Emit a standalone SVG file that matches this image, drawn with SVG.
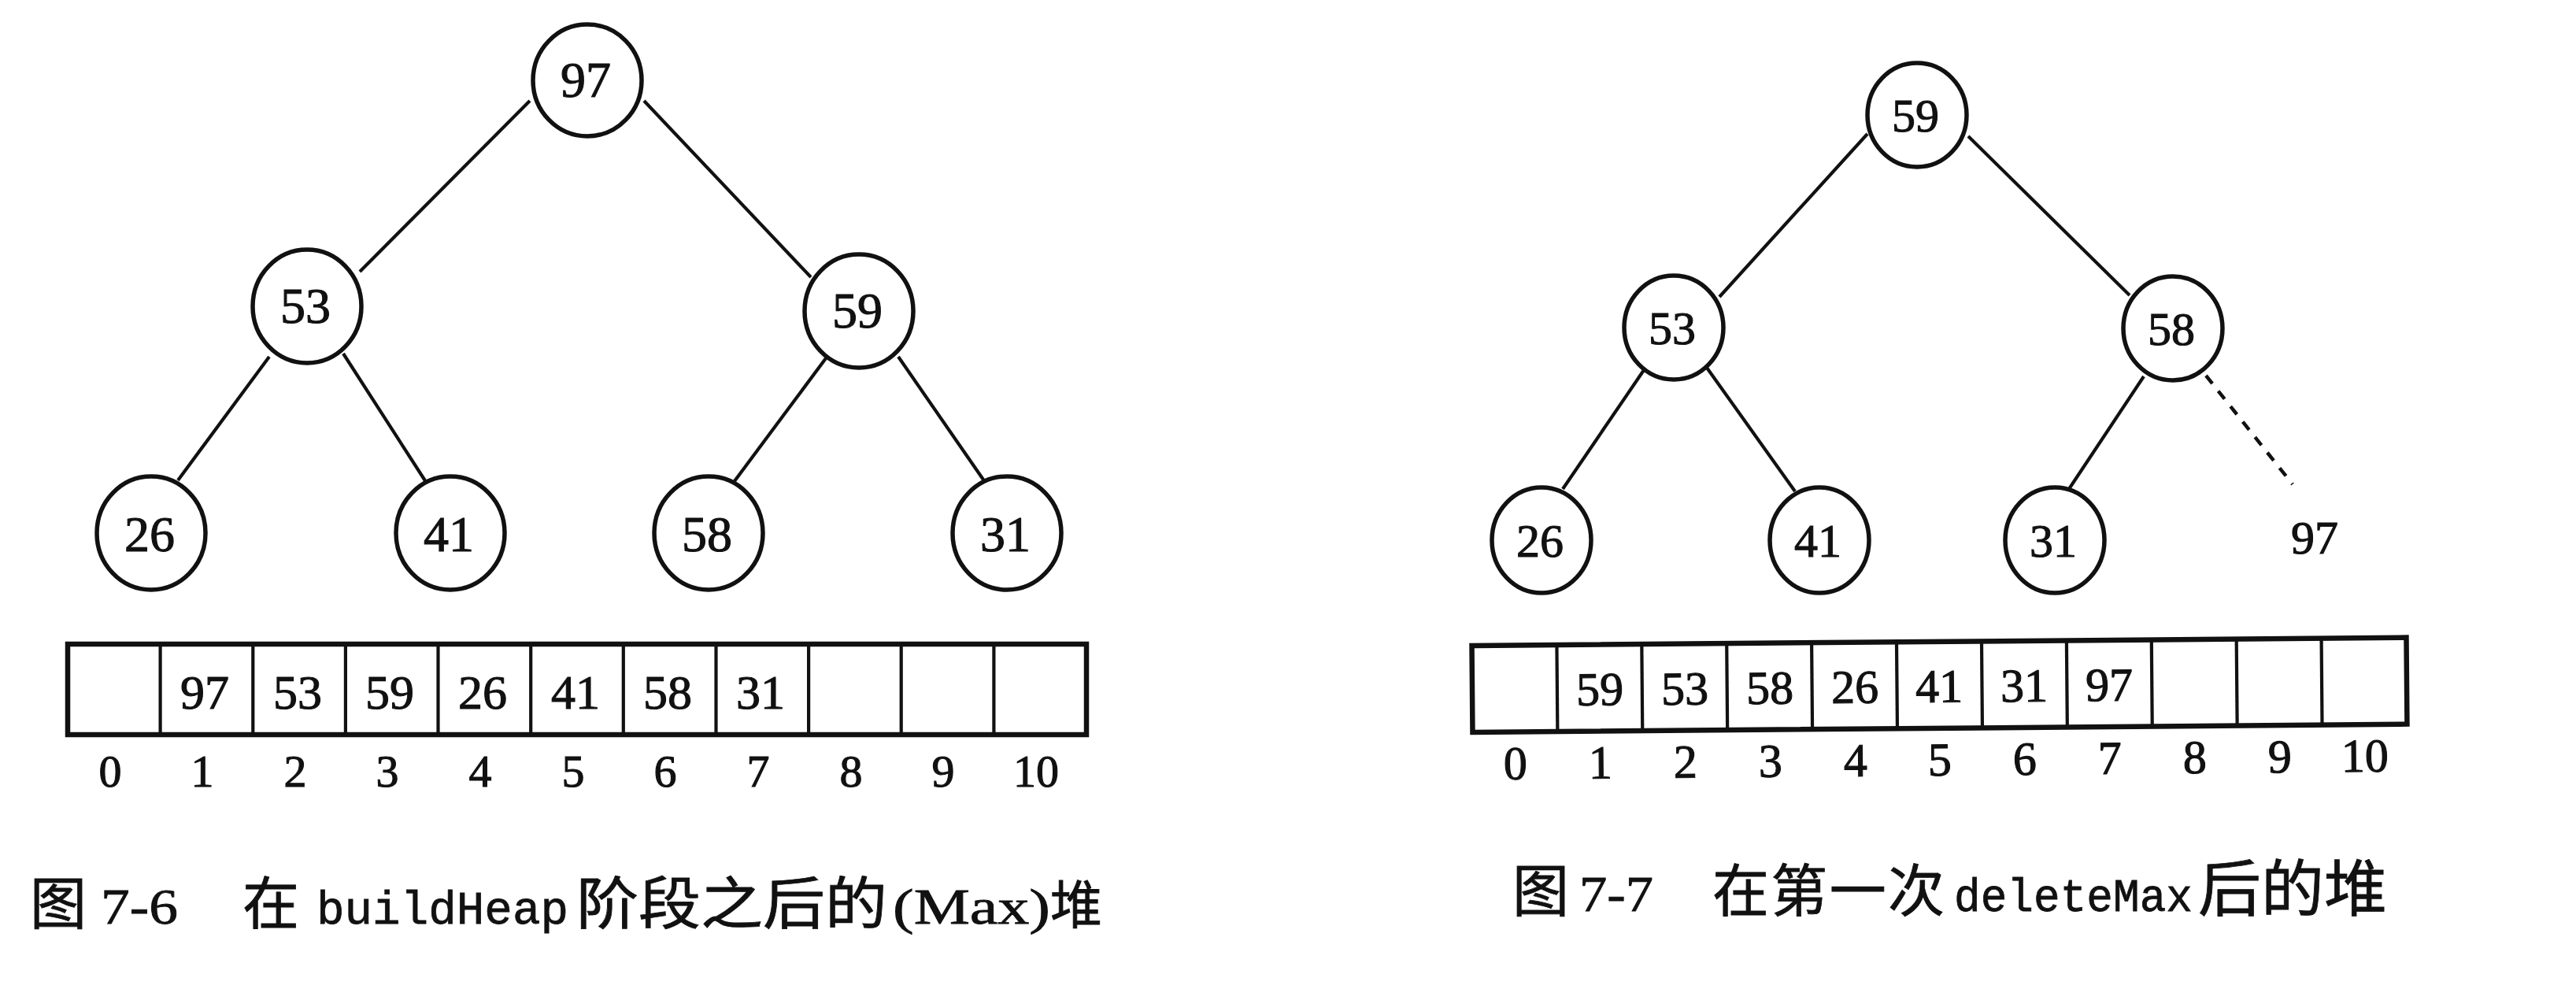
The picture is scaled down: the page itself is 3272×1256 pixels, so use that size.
<svg xmlns="http://www.w3.org/2000/svg" width="3272" height="1256" viewBox="0 0 3272 1256">
<style>
.node ellipse{fill:#fff;stroke:#111;stroke-width:5.5}
.edge{stroke:#111;stroke-width:4.2;fill:none}
.dash{stroke:#111;stroke-width:4.5;fill:none;stroke-dasharray:13 12}
.num{font-family:"Liberation Serif","Times New Roman",serif;fill:#111;stroke:#111;stroke-width:1.1;text-anchor:middle}
.cell{fill:#fff;stroke:#111;stroke-width:6.5}
.div{stroke:#111;stroke-width:4.2}
.cap{font-family:"Noto Sans CJK SC","Noto Sans",sans-serif;font-size:72px;fill:#111;stroke:#111;stroke-width:0.8}
.mono{font-family:"Liberation Mono","Courier New",monospace;font-size:60px}
.ser{font-family:"Liberation Serif","Times New Roman",serif;font-size:64px}
</style>
<rect width="3272" height="1256" fill="#fff"/>

<!-- Figure 7-6 -->
<g id="connectors-left">
<line class="edge" x1="673" y1="128" x2="457" y2="345"/>
<line class="edge" x1="818" y1="128" x2="1030" y2="352"/>
<line class="edge" x1="342" y1="453" x2="226" y2="610"/>
<line class="edge" x1="436" y1="449" x2="541" y2="612"/>
<line class="edge" x1="1049" y1="455" x2="930" y2="615"/>
<line class="edge" x1="1141" y1="453" x2="1251" y2="612"/>
</g>
<g id="L97" class="node"><ellipse cx="746" cy="102" rx="69" ry="71"/><text class="num" x="744" y="123" font-size="64">97</text></g>
<g id="L53" class="node"><ellipse cx="390" cy="389" rx="69" ry="72"/><text class="num" x="388" y="410" font-size="64">53</text></g>
<g id="L59" class="node"><ellipse cx="1091" cy="395" rx="69" ry="72"/><text class="num" x="1089" y="416" font-size="64">59</text></g>
<g id="L26" class="node"><ellipse cx="192" cy="677" rx="69" ry="72"/><text class="num" x="190" y="700" font-size="64">26</text></g>
<g id="L41" class="node"><ellipse cx="572" cy="677" rx="69" ry="72"/><text class="num" x="570" y="700" font-size="64">41</text></g>
<g id="L58" class="node"><ellipse cx="900" cy="677" rx="69" ry="72"/><text class="num" x="898" y="700" font-size="64">58</text></g>
<g id="L31" class="node"><ellipse cx="1279" cy="677" rx="69" ry="72"/><text class="num" x="1277" y="700" font-size="64">31</text></g>

<g id="array-left">
<rect class="cell" x="86" y="818" width="1294" height="115"/>
<line class="div" x1="203.6" y1="818" x2="203.6" y2="933"/>
<line class="div" x1="321.3" y1="818" x2="321.3" y2="933"/>
<line class="div" x1="438.9" y1="818" x2="438.9" y2="933"/>
<line class="div" x1="556.5" y1="818" x2="556.5" y2="933"/>
<line class="div" x1="674.2" y1="818" x2="674.2" y2="933"/>
<line class="div" x1="791.8" y1="818" x2="791.8" y2="933"/>
<line class="div" x1="909.5" y1="818" x2="909.5" y2="933"/>
<line class="div" x1="1027.1" y1="818" x2="1027.1" y2="933"/>
<line class="div" x1="1144.7" y1="818" x2="1144.7" y2="933"/>
<line class="div" x1="1262.4" y1="818" x2="1262.4" y2="933"/>
<g font-size="62">
<text class="num" x="260" y="900">97</text>
<text class="num" x="378" y="900">53</text>
<text class="num" x="495" y="900">59</text>
<text class="num" x="613" y="900">26</text>
<text class="num" x="731" y="900">41</text>
<text class="num" x="848" y="900">58</text>
<text class="num" x="966" y="900">31</text>
</g>
<g font-size="58">
<text class="num" x="140" y="999">0</text>
<text class="num" x="257" y="999">1</text>
<text class="num" x="375" y="999">2</text>
<text class="num" x="492" y="999">3</text>
<text class="num" x="610" y="999">4</text>
<text class="num" x="728" y="999">5</text>
<text class="num" x="845" y="999">6</text>
<text class="num" x="963" y="999">7</text>
<text class="num" x="1081" y="999">8</text>
<text class="num" x="1198" y="999">9</text>
<text class="num" x="1316" y="999">10</text>
</g>
</g>

<g id="caption-left">
<text class="cap" y="1173"><tspan x="38">图</tspan><tspan class="ser" x="128" textLength="98" lengthAdjust="spacingAndGlyphs">7-6</tspan><tspan x="308">在</tspan><tspan class="mono" x="402" textLength="320" lengthAdjust="spacingAndGlyphs">buildHeap</tspan><tspan x="732" textLength="395" lengthAdjust="spacingAndGlyphs">阶段之后的</tspan><tspan class="ser" x="1134" textLength="200" lengthAdjust="spacingAndGlyphs">(Max)</tspan><tspan x="1334" font-size="66">堆</tspan></text>
</g>

<!-- Figure 7-7 -->
<g id="connectors-right">
<line class="edge" x1="2372" y1="170" x2="2184" y2="377"/>
<line class="edge" x1="2500" y1="173" x2="2705" y2="375"/>
<line class="edge" x1="2088" y1="470" x2="1985" y2="621"/>
<line class="edge" x1="2168" y1="467" x2="2280" y2="624"/>
<line class="edge" x1="2723" y1="478" x2="2628" y2="621"/>
<line class="dash" x1="2802" y1="477" x2="2912" y2="615"/>
</g>
<g id="R59" class="node"><ellipse cx="2435" cy="146" rx="63" ry="66"/><text class="num" x="2433" y="167" font-size="60">59</text></g>
<g id="R53" class="node"><ellipse cx="2126" cy="416" rx="63" ry="66"/><text class="num" x="2124" y="437" font-size="60">53</text></g>
<g id="R58" class="node"><ellipse cx="2760" cy="417" rx="63" ry="66"/><text class="num" x="2758" y="438" font-size="60">58</text></g>
<g id="R26" class="node"><ellipse cx="1958" cy="686" rx="63" ry="67"/><text class="num" x="1956" y="707" font-size="60">26</text></g>
<g id="R41" class="node"><ellipse cx="2311" cy="686" rx="63" ry="67"/><text class="num" x="2309" y="707" font-size="60">41</text></g>
<g id="R31" class="node"><ellipse cx="2610" cy="686" rx="63" ry="67"/><text class="num" x="2608" y="707" font-size="60">31</text></g>
<g id="R97"><text class="num" x="2940" y="703" font-size="60">97</text></g>

<g id="array-right" transform="rotate(-0.5 1870 875)">
<rect class="cell" x="1870" y="820" width="1187" height="110"/>
<line class="div" x1="1977.9" y1="820" x2="1977.9" y2="930"/>
<line class="div" x1="2085.8" y1="820" x2="2085.8" y2="930"/>
<line class="div" x1="2193.7" y1="820" x2="2193.7" y2="930"/>
<line class="div" x1="2301.6" y1="820" x2="2301.6" y2="930"/>
<line class="div" x1="2409.5" y1="820" x2="2409.5" y2="930"/>
<line class="div" x1="2517.5" y1="820" x2="2517.5" y2="930"/>
<line class="div" x1="2625.4" y1="820" x2="2625.4" y2="930"/>
<line class="div" x1="2733.3" y1="820" x2="2733.3" y2="930"/>
<line class="div" x1="2841.2" y1="820" x2="2841.2" y2="930"/>
<line class="div" x1="2949.1" y1="820" x2="2949.1" y2="930"/>
<g font-size="60">
<text class="num" x="2032" y="897">59</text>
<text class="num" x="2140" y="897">53</text>
<text class="num" x="2248" y="897">58</text>
<text class="num" x="2356" y="897">26</text>
<text class="num" x="2463" y="897">41</text>
<text class="num" x="2571" y="897">31</text>
<text class="num" x="2679" y="897">97</text>
</g>
<g font-size="60">
<text class="num" x="1924" y="990">0</text>
<text class="num" x="2032" y="990">1</text>
<text class="num" x="2140" y="990">2</text>
<text class="num" x="2248" y="990">3</text>
<text class="num" x="2356" y="990">4</text>
<text class="num" x="2463" y="990">5</text>
<text class="num" x="2571" y="990">6</text>
<text class="num" x="2679" y="990">7</text>
<text class="num" x="2787" y="990">8</text>
<text class="num" x="2895" y="990">9</text>
<text class="num" x="3003" y="990">10</text>
</g>
</g>

<g id="caption-right">
<text class="cap" y="1157"><tspan x="1921">图</tspan><tspan class="ser" x="2006" textLength="94" lengthAdjust="spacingAndGlyphs">7-7</tspan><tspan x="2175" textLength="295">在第一次</tspan><tspan class="mono" font-size="56" x="2482" textLength="303" lengthAdjust="spacingAndGlyphs">deleteMax</tspan><tspan x="2792" font-size="78" textLength="240" lengthAdjust="spacingAndGlyphs">后的堆</tspan></text>
</g>
</svg>
